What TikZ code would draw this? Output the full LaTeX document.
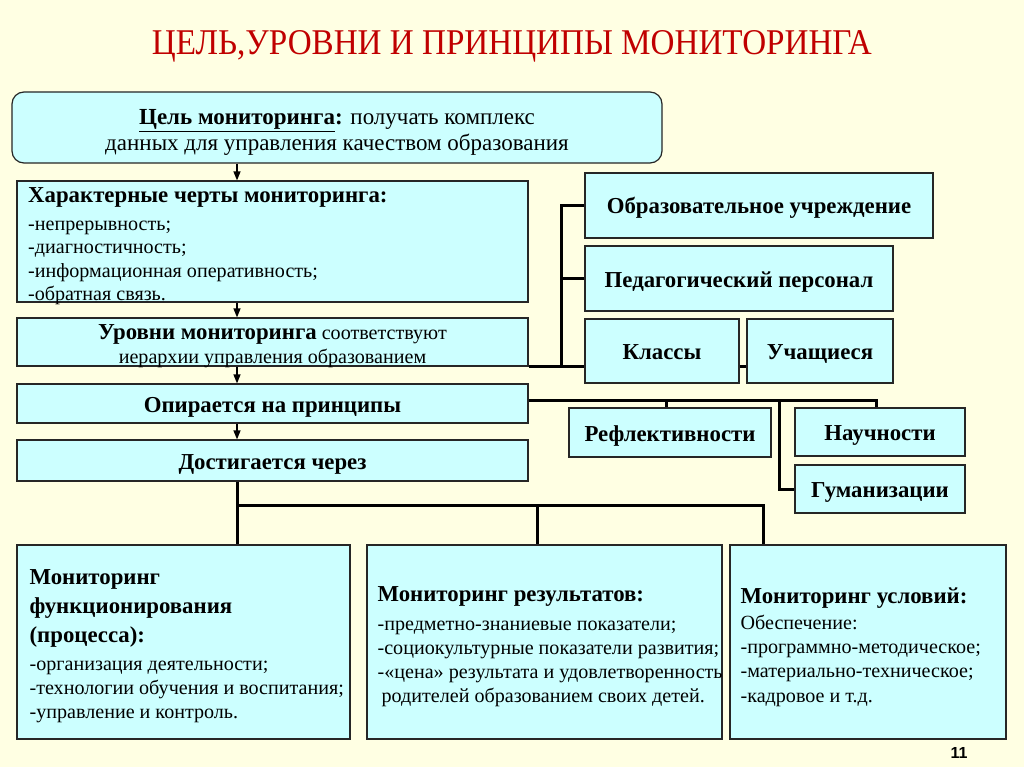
\documentclass[tikz,border=0pt]{standalone}
\usepackage{fontspec}
\setmainfont{Liberation Serif}
\newfontfamily\numfont{Liberation Sans}
\usetikzlibrary{arrows.meta}
\definecolor{bgcol}{RGB}{255,255,227}
\definecolor{boxfill}{RGB}{204,255,255}
\definecolor{titlered}{RGB}{192,0,0}
\newcommand{\regf}{\fontsize{20.1}{24.2}\selectfont}
\newcommand{\boldf}{\fontsize{22.8}{24.2}\selectfont\bfseries}
\begin{document}
\begin{tikzpicture}[x=1pt,y=-1pt,
  box/.style={draw=black!85, line width=1.2pt, fill=boxfill, inner sep=0pt},
  bbox/.style={box, font=\boldf, align=center, text height=19pt, text depth=2pt},
  listtext/.style={font=\regf, align=left, inner sep=0pt, anchor=west},
  conn/.style={line width=3pt},
  arr/.style={line width=1.3pt, -{Triangle[length=9pt,width=7pt]}}]
\fill[bgcol] (0,0) rectangle (1024,767);
\useasboundingbox (0,0) rectangle (1024,767);

% title
\node[anchor=base, text=titlered, inner sep=0pt] (title) at (512,55)
  {\resizebox{720pt}{24pt}{ЦЕЛЬ,УРОВНИ И ПРИНЦИПЫ МОНИТОРИНГА}};

% left column
\node[box, rounded corners=12pt, minimum width=650pt, minimum height=71pt] (goal) at (337,127.5) {};
\node[align=center, inner sep=0pt, font=\fontsize{23}{26}\selectfont] (goaltext) at ([yshift=-5pt]goal.center)
  {\textbf{\underline{Цель мониторинга}:} получать комплекс\\данных для управления качеством образования};
\node[box, minimum width=511pt, minimum height=121pt] (feat) at (272.5,241.5) {};
\node[listtext, anchor=base west, font=\fontsize{20.1}{23.5}\selectfont] (feattext) at (28,300.5)
  {{\boldf Характерные черты мониторинга:}\\[4.5pt]-непрерывность;\\-диагностичность;\\-информационная оперативность;\\-обратная связь.};
\node[box, minimum width=511pt, minimum height=48pt] (lev) at (272.5,342) {};
\node[align=center, inner sep=0pt, font=\fontsize{20.1}{24}\selectfont] (levtext) at ([yshift=-4.5pt]lev.center)
  {{\boldf Уровни мониторинга} соответствуют\\иерархии управления образованием};
\node[bbox, minimum width=511pt, minimum height=39pt] (princ) at (272.5,403.5) {Опирается на принципы};
\node[bbox, minimum width=511pt, minimum height=41pt] (ach) at (272.5,460.5) {Достигается через};

% levels
\node[bbox, minimum width=348pt, minimum height=65pt] (edu) at (759,205.5) {Образовательное учреждение};
\node[bbox, minimum width=308pt, minimum height=65pt] (ped) at (739,278.5) {Педагогический персонал};
\node[bbox, minimum width=154pt, minimum height=64pt] (cls) at (662,351) {Классы};
\node[bbox, minimum width=146pt, minimum height=64pt] (stu) at (820,351) {Учащиеся};

% principles
\node[bbox, minimum width=202pt, minimum height=49pt] (refl) at (670,432.5) {Рефлективности};
\node[bbox, minimum width=170pt, minimum height=48pt] (sci) at (880,432) {Научности};
\node[bbox, minimum width=170pt, minimum height=48pt] (hum) at (880,489) {Гуманизации};

% bottom boxes
\node[box, minimum width=333pt, minimum height=194pt] (mf) at (183.5,642) {};
\node[listtext] (mftext) at ([xshift=13pt,yshift=-4pt]mf.west)
  {{\boldf Мониторинг}\\[5pt]{\boldf функционирования}\\[5pt]{\boldf (процесса):}\\[3.5pt]-организация деятельности;\\-технологии обучения и воспитания;\\-управление и контроль.};
\node[box, minimum width=355pt, minimum height=194pt] (mr) at (544.5,642) {};
\node[listtext] (mrtext) at ([xshift=11pt,yshift=-5pt]mr.west)
  {{\boldf Мониторинг результатов:}\\[4pt]-предметно-знаниевые показатели;\\-социокультурные показатели развития;\\-«цена» результата и удовлетворенность\\\hspace*{4pt}родителей образованием своих детей.};
\node[box, minimum width=276pt, minimum height=194pt] (mc) at (868,642) {};
\node[listtext] (mctext) at ([xshift=11pt,yshift=-5pt]mc.west)
  {{\boldf Мониторинг условий:}\\[2pt]Обеспечение:\\-программно-методическое;\\-материально-техническое;\\-кадровое и т.д.};

\node[font=\numfont\bfseries\fontsize{16}{19}\selectfont, inner sep=0pt, anchor=base] (num) at (959,758) {11};

% arrows in left column
\coordinate (cx) at (237,0);
\draw[arr] (cx |- goal.south) -- (cx |- feat.north);
\draw[arr] (cx |- feat.south) -- (cx |- lev.north);
\draw[arr] (cx |- lev.south) -- (cx |- princ.north);
\draw[arr] (cx |- princ.south) -- (cx |- ach.north);

% levels connectors
\coordinate (vx) at (561,0);
\draw[conn] (lev.south east) -- (lev.south east -| cls.west);
\draw[conn] (vx |- lev.south east) -- (vx |- edu.west) -- (edu.west);
\draw[conn] (vx |- ped.west) -- (ped.west);
\draw[conn] (cls.east |- lev.south) -- (stu.west |- lev.south);

% principles connectors
\coordinate (pl) at ([yshift=3.5pt]princ.east);
\coordinate (rx) at (666,0);
\coordinate (sx) at (876,0);
\coordinate (hx) at (779,0);
\draw[conn] (pl) -- (pl -| sx) -- (sx |- sci.north);
\draw[conn] (pl -| rx) -- (rx |- refl.north);
\draw[conn] (pl -| hx) -- (hx |- hum.west) -- (hum.west);

% bottom connectors
\coordinate (by) at (0,505);
\coordinate (mx) at (537,0);
\coordinate (qx) at (763,0);
\draw[conn] (cx |- ach.south) -- (cx |- mf.north);
\draw[conn] (cx |- by) -- (qx |- by) -- (qx |- mc.north);
\draw[conn] (mx |- by) -- (mx |- mr.north);
\end{tikzpicture}
\end{document}
